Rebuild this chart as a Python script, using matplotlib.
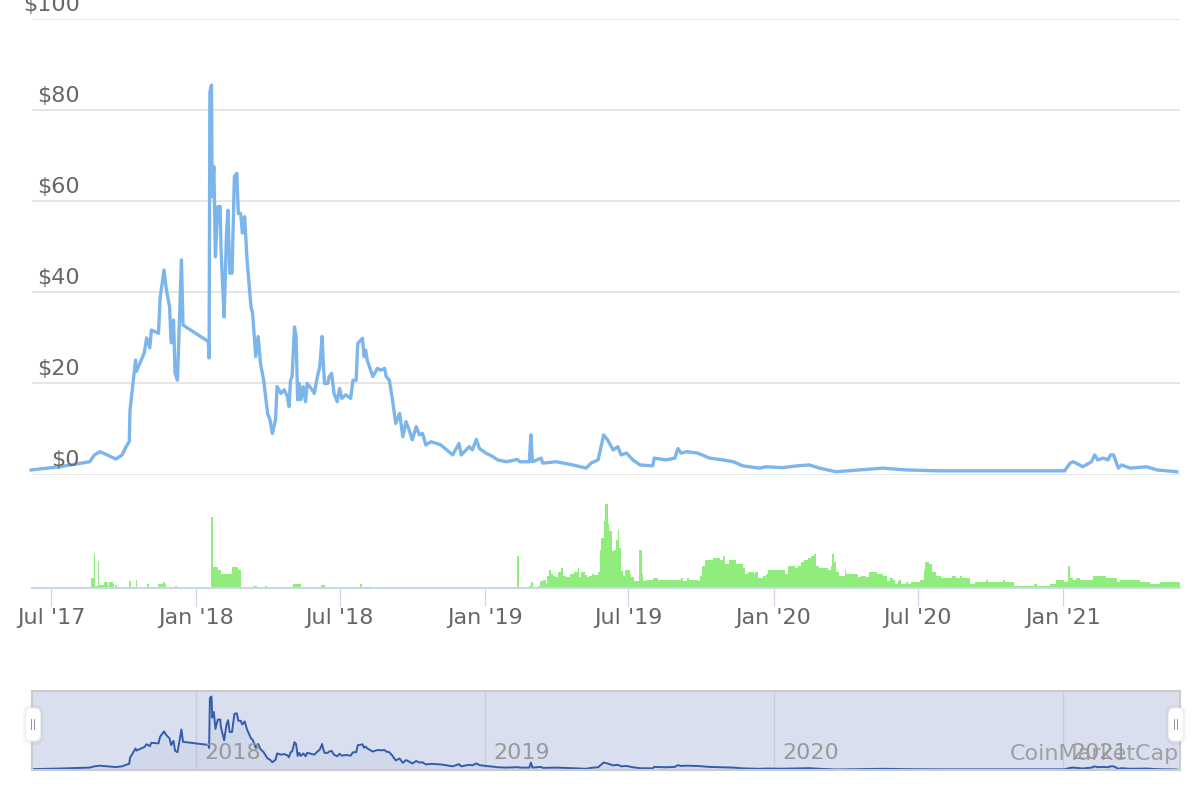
import matplotlib
matplotlib.use("Agg")
import matplotlib.pyplot as plt
import matplotlib.dates as mdates
import pandas as pd
from matplotlib.patches import FancyBboxPatch, Rectangle
from matplotlib.transforms import IdentityTransform

# price (USD)
price_dates = [
    "2017-06-06", "2017-07-12", "2017-08-19", "2017-08-25", "2017-09-01", "2017-09-10",
    "2017-09-21", "2017-09-29", "2017-10-04", "2017-10-08", "2017-10-09", "2017-10-16",
    "2017-10-17", "2017-10-27", "2017-10-30", "2017-11-03", "2017-11-05", "2017-11-14",
    "2017-11-16", "2017-11-21", "2017-11-24", "2017-11-28", "2017-11-30", "2017-12-03",
    "2017-12-05", "2017-12-08", "2017-12-13", "2017-12-15", "2018-01-16", "2018-01-17",
    "2018-01-18", "2018-01-20", "2018-01-21", "2018-01-23", "2018-01-25", "2018-01-28",
    "2018-01-31", "2018-02-01", "2018-02-03", "2018-02-05", "2018-02-08", "2018-02-10",
    "2018-02-12", "2018-02-15", "2018-02-18", "2018-02-21", "2018-02-23", "2018-02-26",
    "2018-02-28", "2018-03-03", "2018-03-06", "2018-03-11", "2018-03-13", "2018-03-17",
    "2018-03-20", "2018-03-23", "2018-03-27", "2018-04-01", "2018-04-04", "2018-04-07",
    "2018-04-11", "2018-04-13", "2018-04-18", "2018-04-22", "2018-04-26", "2018-04-28",
    "2018-04-30", "2018-05-02", "2018-05-05", "2018-05-07", "2018-05-09", "2018-05-11",
    "2018-05-13", "2018-05-16", "2018-05-19", "2018-05-21", "2018-05-26", "2018-05-30",
    "2018-06-03", "2018-06-06", "2018-06-09", "2018-06-10", "2018-06-12", "2018-06-16",
    "2018-06-18", "2018-06-21", "2018-06-24", "2018-06-28", "2018-07-01", "2018-07-04",
    "2018-07-09", "2018-07-15", "2018-07-18", "2018-07-22", "2018-07-24", "2018-07-30",
    "2018-08-01", "2018-08-03", "2018-08-05", "2018-08-12", "2018-08-18", "2018-08-22",
    "2018-08-27", "2018-08-29", "2018-09-02", "2018-09-06", "2018-09-10", "2018-09-15",
    "2018-09-19", "2018-09-23", "2018-09-27", "2018-10-01", "2018-10-06", "2018-10-10",
    "2018-10-14", "2018-10-18", "2018-10-25", "2018-11-06", "2018-11-21", "2018-11-29",
    "2018-12-02", "2018-12-12", "2018-12-16", "2018-12-21", "2018-12-25", "2019-01-02",
    "2019-01-11", "2019-01-17", "2019-01-28", "2019-02-11", "2019-02-14", "2019-02-26",
    "2019-02-28", "2019-03-02", "2019-03-13", "2019-03-15", "2019-04-01", "2019-04-22",
    "2019-05-09", "2019-05-15", "2019-05-24", "2019-05-31", "2019-06-05", "2019-06-12",
    "2019-06-18", "2019-06-22", "2019-06-29", "2019-07-07", "2019-07-16", "2019-08-01",
    "2019-08-03", "2019-08-18", "2019-08-29", "2019-09-02", "2019-09-06", "2019-09-13",
    "2019-09-27", "2019-10-12", "2019-10-29", "2019-11-11", "2019-11-23", "2019-12-14",
    "2019-12-23", "2020-01-12", "2020-01-31", "2020-02-15", "2020-02-28", "2020-03-20",
    "2020-04-27", "2020-05-18", "2020-06-17", "2020-07-29", "2020-09-30", "2020-11-11",
    "2021-01-03", "2021-01-10", "2021-01-14", "2021-01-22", "2021-01-26", "2021-02-06",
    "2021-02-10", "2021-02-14", "2021-02-21", "2021-02-27", "2021-03-02", "2021-03-06",
    "2021-03-12", "2021-03-16", "2021-03-27", "2021-04-17", "2021-04-30", "2021-05-25",
]
price_values = [
    1.0, 1.7, 2.8, 4.3, 5.0, 4.3,
    3.4, 4.3, 6.1, 7.2, 14.2, 25.1,
    22.6, 26.7, 30.0, 27.8, 31.7, 31.0,
    38.7, 44.9, 40.5, 36.8, 28.9, 33.9,
    22.3, 20.7, 47.1, 32.8, 29.2, 25.6,
    84.0, 85.5, 61.0, 67.6, 47.8, 58.8,
    58.8, 50.0, 42.0, 34.6, 53.0, 58.0,
    44.2, 44.2, 65.4, 66.1, 57.3, 57.3,
    53.0, 56.6, 47.1, 36.8, 35.4, 25.9,
    30.3, 24.4, 20.7, 13.4, 12.0, 9.0,
    12.0, 19.3, 17.8, 18.6, 17.1, 14.9,
    20.7, 21.5, 32.4, 30.3, 16.4, 20.0,
    16.4, 19.3, 16.0, 20.0, 18.9, 17.8,
    21.5, 23.7, 30.3, 25.9, 20.0, 20.0,
    21.5, 22.2, 17.8, 16.0, 18.9, 16.7,
    17.5, 16.7, 20.7, 20.7, 28.8, 29.9,
    25.9, 27.3, 25.1, 21.5, 23.3, 22.9,
    23.3, 21.5, 20.7, 16.4, 11.2, 13.4,
    8.3, 11.6, 9.8, 7.6, 10.5, 8.7,
    9.0, 6.5, 7.2, 6.5, 4.3, 6.8,
    4.3, 6.1, 5.4, 7.7, 5.7, 4.7,
    3.9, 3.2, 2.8, 3.3, 2.8, 2.8,
    8.7, 2.8, 3.6, 2.5, 2.8, 2.1,
    1.4, 2.5, 3.2, 8.7, 7.6, 5.4,
    6.1, 4.3, 4.7, 3.2, 2.1, 1.9,
    3.6, 3.2, 3.6, 5.7, 4.7, 5.0,
    4.7, 3.6, 3.2, 2.8, 1.9, 1.4,
    1.7, 1.5, 1.9, 2.1, 1.4, 0.6,
    1.1, 1.4, 1.0, 0.8, 0.8, 0.8,
    0.8, 2.5, 2.8, 2.1, 1.7, 2.8,
    4.3, 3.2, 3.6, 3.2, 4.3, 4.3,
    1.4, 2.1, 1.4, 1.7, 1.0, 0.6,
]

# volume (relative units), each value holds until the next date
volume_dates = [
    "2017-06-06", "2017-08-21", "2017-08-24", "2017-08-26", "2017-08-29", "2017-08-31",
    "2017-09-06", "2017-09-11", "2017-09-13", "2017-09-17", "2017-09-19", "2017-09-20",
    "2017-09-22", "2017-10-08", "2017-10-10", "2017-10-16", "2017-10-18", "2017-10-31",
    "2017-11-02", "2017-11-13", "2017-11-20", "2017-11-22", "2017-11-23", "2017-12-05",
    "2017-12-07", "2018-01-20", "2018-01-22", "2018-01-28", "2018-02-01", "2018-02-15",
    "2018-02-23", "2018-02-26", "2018-03-14", "2018-03-19", "2018-03-29", "2018-03-31",
    "2018-05-03", "2018-05-13", "2018-06-07", "2018-06-13", "2018-07-27", "2018-07-30",
    "2018-08-08", "2018-08-10", "2019-02-11", "2019-02-13", "2019-02-26", "2019-02-28",
    "2019-03-03", "2019-03-09", "2019-03-12", "2019-03-15", "2019-03-19", "2019-03-21",
    "2019-03-23", "2019-03-26", "2019-03-28", "2019-03-31", "2019-04-03", "2019-04-07",
    "2019-04-10", "2019-04-13", "2019-04-18", "2019-04-23", "2019-04-28", "2019-04-30",
    "2019-05-03", "2019-05-07", "2019-05-10", "2019-05-13", "2019-05-16", "2019-05-19",
    "2019-05-24", "2019-05-26", "2019-05-28", "2019-05-31", "2019-06-02", "2019-06-05",
    "2019-06-07", "2019-06-10", "2019-06-13", "2019-06-16", "2019-06-18", "2019-06-20",
    "2019-06-22", "2019-06-25", "2019-06-27", "2019-07-03", "2019-07-05", "2019-07-08",
    "2019-07-15", "2019-07-18", "2019-07-20", "2019-07-23", "2019-08-01", "2019-08-08",
    "2019-09-06", "2019-09-09", "2019-09-13", "2019-09-16", "2019-09-27", "2019-09-30",
    "2019-10-03", "2019-10-06", "2019-10-16", "2019-10-25", "2019-10-29", "2019-11-01",
    "2019-11-06", "2019-11-14", "2019-11-23", "2019-11-26", "2019-11-29", "2019-12-07",
    "2019-12-09", "2019-12-12", "2019-12-18", "2019-12-22", "2019-12-25", "2020-01-16",
    "2020-01-19", "2020-01-28", "2020-02-01", "2020-02-05", "2020-02-09", "2020-02-13",
    "2020-02-17", "2020-02-21", "2020-02-24", "2020-02-28", "2020-03-10", "2020-03-13",
    "2020-03-15", "2020-03-18", "2020-03-20", "2020-03-24", "2020-03-31", "2020-04-02",
    "2020-04-17", "2020-04-21", "2020-04-27", "2020-05-01", "2020-05-11", "2020-05-18",
    "2020-05-24", "2020-05-27", "2020-05-31", "2020-06-03", "2020-06-06", "2020-06-08",
    "2020-06-10", "2020-06-16", "2020-06-19", "2020-06-23", "2020-07-04", "2020-07-09",
    "2020-07-11", "2020-07-16", "2020-07-19", "2020-07-24", "2020-07-31", "2020-08-13",
    "2020-08-19", "2020-08-24", "2020-08-26", "2020-09-05", "2020-09-12", "2020-09-25",
    "2020-09-28", "2020-10-17", "2020-10-20", "2020-10-31", "2020-11-25", "2020-11-29",
    "2020-12-16", "2020-12-23", "2021-01-02", "2021-01-07", "2021-01-10", "2021-01-14",
    "2021-01-18", "2021-01-22", "2021-02-08", "2021-02-25", "2021-03-10", "2021-03-14",
    "2021-04-08", "2021-04-21", "2021-05-04", "2021-05-29",
]
volume_values = [
    0, 10, 34, 2, 27, 3,
    6, 2, 6, 4, 0, 3,
    0, 7, 0, 8, 0, 4,
    0, 4, 6, 4, 0, 2,
    0, 71, 21, 18, 14, 21,
    18, 0, 2, 0, 2, 0,
    4, 0, 3, 0, 4, 0,
    2, 0, 32, 0, 2, 6,
    0, 2, 7, 8, 4, 12,
    18, 14, 12, 11, 16, 20,
    12, 11, 14, 16, 20, 11,
    16, 13, 11, 12, 14, 13,
    16, 38, 50, 67, 84, 64,
    57, 37, 38, 48, 58, 40,
    17, 12, 18, 14, 11, 7,
    38, 14, 7, 8, 10, 8,
    10, 7, 10, 8, 7, 12,
    22, 28, 30, 28, 32, 24,
    28, 24, 20, 14, 16, 14,
    16, 10, 12, 14, 18, 14,
    22, 20, 22, 26, 28, 30,
    32, 34, 22, 20, 18, 22,
    34, 26, 16, 12, 18, 14,
    11, 12, 11, 16, 14, 12,
    7, 10, 8, 4, 7, 8,
    4, 6, 4, 6, 8, 18,
    26, 24, 16, 12, 10, 12,
    10, 12, 10, 4, 6, 8,
    6, 8, 6, 2, 4, 2,
    4, 8, 6, 22, 10, 8,
    10, 8, 12, 10, 6, 8,
    6, 4, 6, 6,
]

price_ticks = [0, 20, 40, 60, 80, 100]
nav_years = ["2018", "2019", "2020", "2021"]

px = pd.to_datetime(price_dates)
vx = pd.to_datetime(volume_dates)
x_start = pd.Timestamp("2017-06-07")
x_end = pd.Timestamp("2021-05-29")

LABEL = "#666666"
W, H = 1200, 800

fig = plt.figure(figsize=(12, 8), dpi=100)
fig.patch.set_facecolor("white")

def frac(left_px, top_px, right_px, bottom_px):
    return [left_px / W, 1 - bottom_px / H, (right_px - left_px) / W, (bottom_px - top_px) / H]

# price panel
ax = fig.add_axes(frac(32, 19, 1180, 474.5))
ax.plot(px, price_values, color="#7cb5ec", lw=2.4, solid_joinstyle="round", clip_on=False, zorder=3)
ax.set_xlim(x_start, x_end)
ax.set_ylim(0, 100)
for v in price_ticks:
    ax.axhline(v, color="#e6e6e6", lw=1.4, zorder=1)
    ax.annotate(f"${v}", xy=((80 - 32) / 1148, v), xycoords=("axes fraction", "data"),
                xytext=(0, 3), textcoords="offset points", ha="right", va="bottom",
                fontsize=16, color=LABEL, annotation_clip=False, zorder=4)
ax.set_xticks([])
ax.set_yticks([])
for s in ax.spines.values():
    s.set_visible(False)
ax.patch.set_alpha(0)

# volume panel
axv = fig.add_axes(frac(32, 480, 1180, 588.3))
axv.fill_between(vx, volume_values, step="post", color="#90ed7d", lw=0)
axv.set_xlim(x_start, x_end)
axv.set_ylim(0, 108.3)
for side in ["top", "left", "right"]:
    axv.spines[side].set_visible(False)
axv.spines["bottom"].set_color("#ccd6eb")
axv.spines["bottom"].set_linewidth(1.5)
axv.set_yticks([])
axv.set_xticks(pd.date_range("2017-07-01", "2021-01-01", freq="6MS"))
axv.xaxis.set_major_formatter(mdates.DateFormatter("%b '%y"))
axv.tick_params(axis="x", length=13, width=0.9, color="#ccd6eb", labelcolor=LABEL,
                labelsize=16, pad=1)
axv.patch.set_alpha(0)

# navigator
axn = fig.add_axes(frac(32, 691, 1180, 770))
axn.set_facecolor("#d9dfee")
axn.fill_between(px, price_values, color="#335cad", alpha=0.05, lw=0)
axn.plot(px, price_values, color="#335cad", lw=1.4)
axn.set_xlim(x_start, x_end)
axn.set_ylim(0, 92)
for y in nav_years:
    d = pd.Timestamp(f"{y}-01-01")
    axn.axvline(d, color="#c5cde0", lw=1.0, zorder=0.5)
    axn.annotate(y, xy=(d, 0), xycoords="data", xytext=(6, 5), textcoords="offset points",
                 ha="left", va="bottom", fontsize=16, color="#999999")
axn.set_xticks([])
axn.set_yticks([])
for s in axn.spines.values():
    s.set_color("#cccccc")
    s.set_linewidth(1.5)
axn.text(0.999, 0.07, "CoinMarketCap", transform=axn.transAxes, ha="right", va="bottom",
         fontsize=16, color="#999999", alpha=0.9)

# navigator handles
for cx in (33, 1176):
    shadow = FancyBboxPatch((cx - 10, H - 745), 20, 40, boxstyle="round,pad=0,rounding_size=8",
                            transform=IdentityTransform(), facecolor="#000000", alpha=0.04,
                            edgecolor="none")
    fig.add_artist(shadow)
    handle = FancyBboxPatch((cx - 7.5, H - 741), 15, 33, boxstyle="round,pad=0,rounding_size=6",
                            transform=IdentityTransform(), facecolor="white", edgecolor="#eeeeee",
                            lw=0.8)
    fig.add_artist(handle)
    for dx in (-1.5, 1.5):
        fig.add_artist(Rectangle((cx + dx - 0.5, H - 730), 1, 11, transform=IdentityTransform(),
                                 facecolor="#8f96a6", edgecolor="none"))

fig.savefig("out.png", dpi=100, facecolor="white")
